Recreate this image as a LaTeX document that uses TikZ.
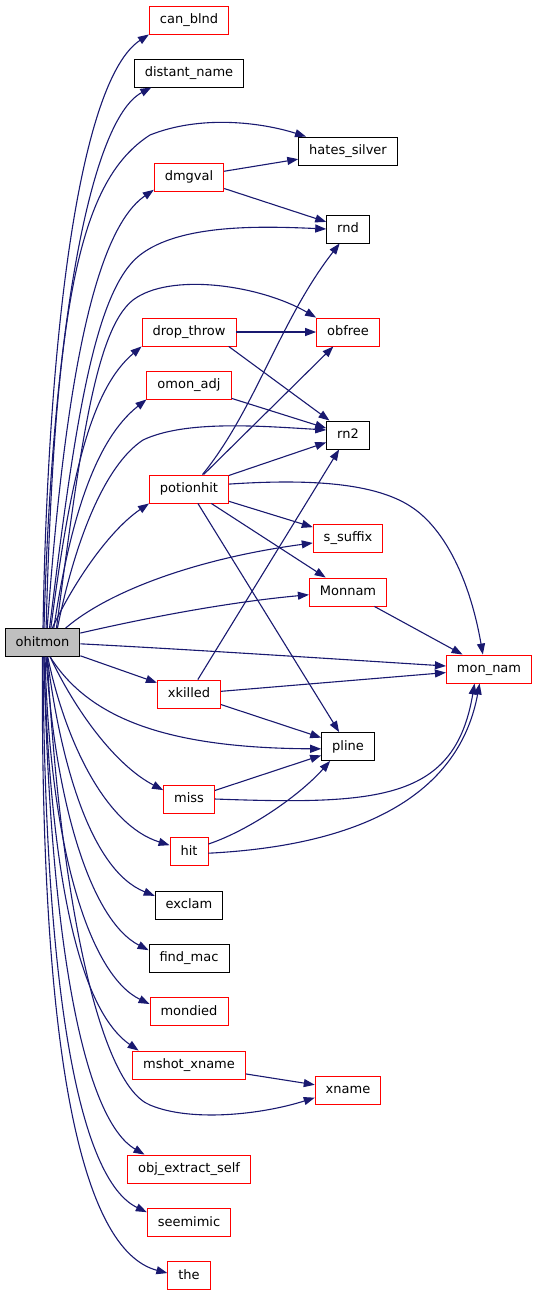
\documentclass[tikz,border=0pt]{standalone}
\usepackage{fontspec}
\setmainfont{DejaVu Sans}
\usetikzlibrary{arrows.meta}
\definecolor{edgeblue}{HTML}{191970}
\definecolor{boxgray}{HTML}{BFBFBF}
\tikzset{
  box/.style={draw, line width=0.9pt, minimum height=28pt, inner xsep=10.5pt, inner ysep=0pt,
    font=\fontsize{13}{15}\selectfont, text height=10pt, text depth=3pt},
  rbox/.style={box, draw=red},
  kbox/.style={box, draw=black},
  gbox/.style={box, draw=black, fill=boxgray},
  edge/.style={draw=edgeblue, line width=1.1pt, -{Triangle[length=11pt,width=8pt]}, fill=none},
}
\begin{document}
\begin{tikzpicture}[x=1pt,y=-1pt]
\useasboundingbox (0,0) rectangle (539,1296);
% nodes
\node[gbox] (ohitmon) at (42.5,642.5) {ohitmon};
\node[rbox] (can_blnd) at (189,20) {can\_blnd};
\node[kbox] (distant_name) at (189,73) {distant\_name};
\node[rbox] (dmgval) at (189,177) {dmgval};
\node[rbox] (drop_throw) at (189,332) {drop\_throw};
\node[rbox] (omon_adj) at (189,385) {omon\_adj};
\node[rbox] (potionhit) at (189,489) {potionhit};
\node[rbox] (xkilled) at (189,694) {xkilled};
\node[rbox] (miss) at (189,799) {miss};
\node[rbox] (hit) at (189,851.5) {hit};
\node[kbox] (exclam) at (189,905) {exclam};
\node[kbox] (find_mac) at (189,958) {find\_mac};
\node[rbox] (mondied) at (189,1011.7) {mondied};
\node[rbox] (mshot_xname) at (189,1065) {mshot\_xname};
\node[rbox] (obj_extract_self) at (189,1169) {obj\_extract\_self};
\node[rbox] (seemimic) at (189,1222.7) {seemimic};
\node[rbox] (the) at (189,1275.7) {the};
\node[kbox] (hates_silver) at (348,151) {hates\_silver};
\node[kbox] (rnd) at (348,229) {rnd};
\node[rbox] (obfree) at (348,332) {obfree};
\node[kbox] (rn2) at (348,435) {rn2};
\node[rbox] (s_suffix) at (348,538) {s\_suffix};
\node[rbox] (Monnam) at (348,592) {Monnam};
\node[kbox] (pline) at (348,746.5) {pline};
\node[rbox] (xname) at (348,1090) {xname};
\node[rbox] (mon_nam) at (489,669) {mon\_nam};
% edges from ohitmon (upwards)
\path[edge] (ohitmon.88) .. controls (48,330) and (80,80) .. (can_blnd.south west);
\path[edge] (ohitmon.84) .. controls (52,330) and (90,120) .. (distant_name.201);
\path[edge] (ohitmon.76) .. controls (55,300) and (80,180) .. (150,135) .. controls (200,115) and (260,122) .. (hates_silver.161);
\path[edge] (ohitmon.72) .. controls (65,380) and (95,230) .. (dmgval.200);
\path[edge] (ohitmon.64) .. controls (75,420) and (95,290) .. (140,255) .. controls (180,224) and (260,226) .. (rnd.west);
\path[edge] (ohitmon.46) .. controls (80,450) and (95,330) .. (133,300) .. controls (170,272) and (260,285) .. (obfree.north west);
\path[edge] (ohitmon.60) .. controls (70,480) and (90,390) .. (drop_throw.south west);
\path[edge] (ohitmon.52) .. controls (70,520) and (95,440) .. (omon_adj.south west);
\path[edge] (ohitmon.44) .. controls (75,540) and (105,465) .. (143,440) .. controls (185,420) and (260,426) .. (rn2.167);
\path[edge] (ohitmon.56) .. controls (75,580) and (110,530) .. (potionhit.south west);
\path[edge] (ohitmon.32) .. controls (110,590) and (200,558) .. (s_suffix.188);
\path[edge] (ohitmon.14) .. controls (150,617) and (230,602) .. (Monnam.184);
\path[edge] (ohitmon.-2) .. controls (200,650) and (350,660) .. (mon_nam.176);
\path[edge] (ohitmon) -- (xkilled);
% edges from ohitmon (downwards)
\path[edge] (ohitmon.-62) .. controls (90,720) and (170,748) .. (pline.185);
\path[edge] (ohitmon.-62) .. controls (75,710) and (115,765) .. (miss.161);
\path[edge] (ohitmon.-70) .. controls (65,740) and (105,825) .. (hit.162);
\path[edge] (ohitmon.-72) .. controls (60,760) and (90,870) .. (exclam.165);
\path[edge] (ohitmon.-76) .. controls (55,800) and (90,920) .. (find_mac.169);
\path[edge] (ohitmon.-80) .. controls (50,850) and (90,975) .. (mondied.169);
\path[edge] (ohitmon.-84) .. controls (50,880) and (80,1010) .. (mshot_xname.164);
\path[edge] (ohitmon.-72) .. controls (60,900) and (100,1085) .. (150,1105) .. controls (190,1122) and (260,1115) .. (xname.193);
\path[edge] (ohitmon.-84) .. controls (50,950) and (85,1120) .. (obj_extract_self.162);
\path[edge] (ohitmon.-88) .. controls (45,1000) and (80,1180) .. (seemimic.166);
\path[edge] (ohitmon.-90) .. controls (40,1050) and (80,1250) .. (the.173);
% other edges
\path[edge] (dmgval) -- (hates_silver);
\path[edge] (dmgval) -- (rnd);
\path[edge] (drop_throw) -- (obfree);
\path[edge] (drop_throw.-20) -- (rn2.142);
\path[edge] (omon_adj) -- (rn2);
\path[edge] (potionhit.47) .. controls (255,410) and (280,320) .. (rnd.240);
\path[edge] (potionhit) -- (obfree);
\path[edge] (potionhit) -- (rn2);
\path[edge] (potionhit.7) .. controls (320,478) and (380,485) .. (413,508) .. controls (445,530) and (470,580) .. (mon_nam.113);
\path[edge] (potionhit) -- (s_suffix);
\path[edge] (potionhit) -- (Monnam);
\path[edge] (potionhit) -- (pline);
\path[edge] (Monnam) -- (mon_nam);
\path[edge] (xkilled) -- (rn2);
\path[edge] (xkilled) -- (mon_nam);
\path[edge] (xkilled) -- (pline);
\path[edge] (miss) -- (pline);
\path[edge] (miss.east) .. controls (380,805) and (455,800) .. (mon_nam.225);
\path[edge] (hit.21) .. controls (250,830) and (300,795) .. (pline.219);
\path[edge] (hit.-5) .. controls (370,845) and (460,790) .. (mon_nam.237);
\path[edge] (mshot_xname) -- (xname);
\end{tikzpicture}
\end{document}
